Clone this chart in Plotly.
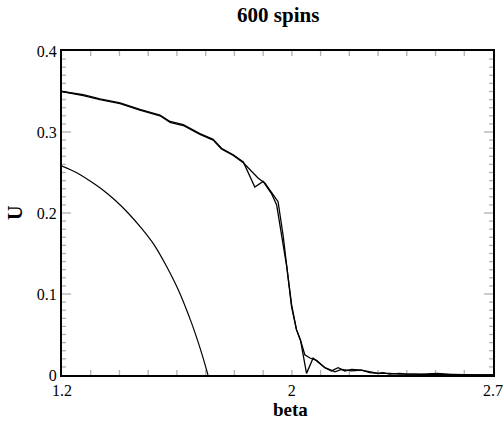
import plotly.graph_objects as go

# Curve A: lower-left curve
beta_a = [1.2, 1.25, 1.291, 1.34, 1.384, 1.43, 1.477, 1.52, 1.558, 1.605, 1.651, 1.686, 1.70, 1.708]
u_a = [0.258, 0.250, 0.241, 0.229, 0.216, 0.200, 0.181, 0.161, 0.138, 0.105, 0.064, 0.027, 0.010, 0.0]

# Curve B: upper curve with the dip
beta_b = [1.2, 1.274, 1.332, 1.402, 1.471, 1.541, 1.576, 1.622, 1.68, 1.726, 1.755, 1.796, 1.831,
          1.871, 1.90, 1.929, 1.947, 1.964, 1.982, 1.999, 2.016, 2.03, 2.051, 2.074, 2.115, 2.138,
          2.161, 2.184, 2.208, 2.242, 2.271, 2.30, 2.317, 2.34, 2.376, 2.40, 2.45, 2.508, 2.55, 2.6, 2.65, 2.7]
u_b = [0.350, 0.346, 0.341, 0.336, 0.328, 0.321, 0.313, 0.309, 0.298, 0.291, 0.280, 0.272, 0.263,
       0.232, 0.239, 0.224, 0.210, 0.171, 0.134, 0.087, 0.056, 0.043, 0.002, 0.021, 0.009, 0.005,
       0.009, 0.005, 0.007, 0.006, 0.004, 0.002, 0.003, 0.001, 0.002, 0.001, 0.001, 0.002, 0.0005, 0.0003, 0.0002, 0.0]

# Curve C: upper curve without the dip
beta_c = [1.2, 1.274, 1.332, 1.402, 1.471, 1.541, 1.576, 1.622, 1.68, 1.726, 1.755, 1.796, 1.831,
          1.854, 1.883, 1.906, 1.952, 1.97, 1.987, 1.999, 2.016, 2.03, 2.045, 2.063, 2.086, 2.115,
          2.15, 2.173, 2.208, 2.242, 2.271, 2.30, 2.34, 2.376, 2.42, 2.47, 2.52, 2.58, 2.64, 2.7]
u_c = [0.350, 0.345, 0.340, 0.335, 0.327, 0.320, 0.312, 0.308, 0.297, 0.290, 0.279, 0.271, 0.262,
       0.253, 0.243, 0.237, 0.214, 0.171, 0.124, 0.084, 0.056, 0.043, 0.025, 0.021, 0.018, 0.009,
       0.004, 0.007, 0.005, 0.006, 0.003, 0.002, 0.002, 0.001, 0.001, 0.0005, 0.001, 0.0003, 0.0002, 0.0]

x_ticks = [1.2, 2, 2.7]
x_tick_labels = ["1.2", "2", "2.7"]
y_ticks = [0, 0.1, 0.2, 0.3, 0.4]
y_tick_labels = ["0", "0.1", "0.2", "0.3", "0.4"]
x_minor_ticks = [round(1.2 + 0.1 * i, 2) for i in range(1, 15)]
y_minor_ticks = [round(0.01 * i, 2) for i in range(1, 40) if i % 10 != 0]

fig = go.Figure()
fig.add_trace(go.Scatter(x=beta_a, y=u_a, mode="lines",
                         line=dict(color="black", width=1.2, shape="spline", smoothing=0.8),
                         showlegend=False))
for xs, ys in [(beta_b, u_b), (beta_c, u_c)]:
    fig.add_trace(go.Scatter(x=xs, y=ys, mode="lines",
                             line=dict(color="black", width=1.3), showlegend=False))

# inward tick marks on all four sides (drawn as axis decorations)
plot_w, plot_h = 431.0, 324.0
tick_style = dict(color="black", width=1.3)
for xv in x_minor_ticks:
    L = 5 / plot_h
    fig.add_shape(type="line", xref="x", yref="paper", x0=xv, x1=xv, y0=0, y1=L, line=tick_style)
    fig.add_shape(type="line", xref="x", yref="paper", x0=xv, x1=xv, y0=1, y1=1 - L, line=tick_style)
for yv in y_ticks[1:-1] + y_minor_ticks:
    L = (9 if yv in y_ticks else 4) / plot_w
    fig.add_shape(type="line", xref="paper", yref="y", x0=0, x1=L, y0=yv, y1=yv, line=tick_style)
    fig.add_shape(type="line", xref="paper", yref="y", x0=1, x1=1 - L, y0=yv, y1=yv, line=tick_style)

serif = "Liberation Serif, Times New Roman, serif"
fig.update_layout(
    template="simple_white",
    width=504, height=426,
    margin=dict(l=62, r=11, t=51, b=51, autoexpand=False),
    paper_bgcolor="white", plot_bgcolor="white",
    title=dict(text="<b>600 spins</b>", x=0.552, xanchor="center", y=0.965, yanchor="middle",
               font=dict(family=serif, size=21, color="black")),
    font=dict(family=serif, color="black"),
    annotations=[
        dict(text="<b>beta</b>", xref="paper", yref="paper", x=0.53, y=-0.108,
             xanchor="center", yanchor="middle", showarrow=False,
             font=dict(family=serif, size=19, color="black")),
        dict(text="<b>U</b>", xref="paper", yref="paper", x=-0.109, y=0.5,
             xanchor="center", yanchor="middle", showarrow=False, textangle=-90,
             font=dict(family=serif, size=20, color="black")),
    ],
)
fig.update_xaxes(
    range=[1.2, 2.7], tickmode="array", tickvals=x_ticks, ticktext=x_tick_labels,
    ticks="", showline=True, linecolor="black", linewidth=2, mirror=True,
    showgrid=False, zeroline=False, automargin=False,
    tickfont=dict(family=serif, size=16, color="black"),
)
fig.update_yaxes(
    range=[0, 0.4], tickmode="array", tickvals=y_ticks, ticktext=y_tick_labels,
    ticks="", showline=True, linecolor="black", linewidth=2, mirror=True,
    showgrid=False, zeroline=False, automargin=False,
    tickfont=dict(family=serif, size=16, color="black"),
)

fig.write_html("out.html", config={"displayModeBar": False},
               post_script="document.body.style.margin='0';document.body.style.overflow='hidden';")
